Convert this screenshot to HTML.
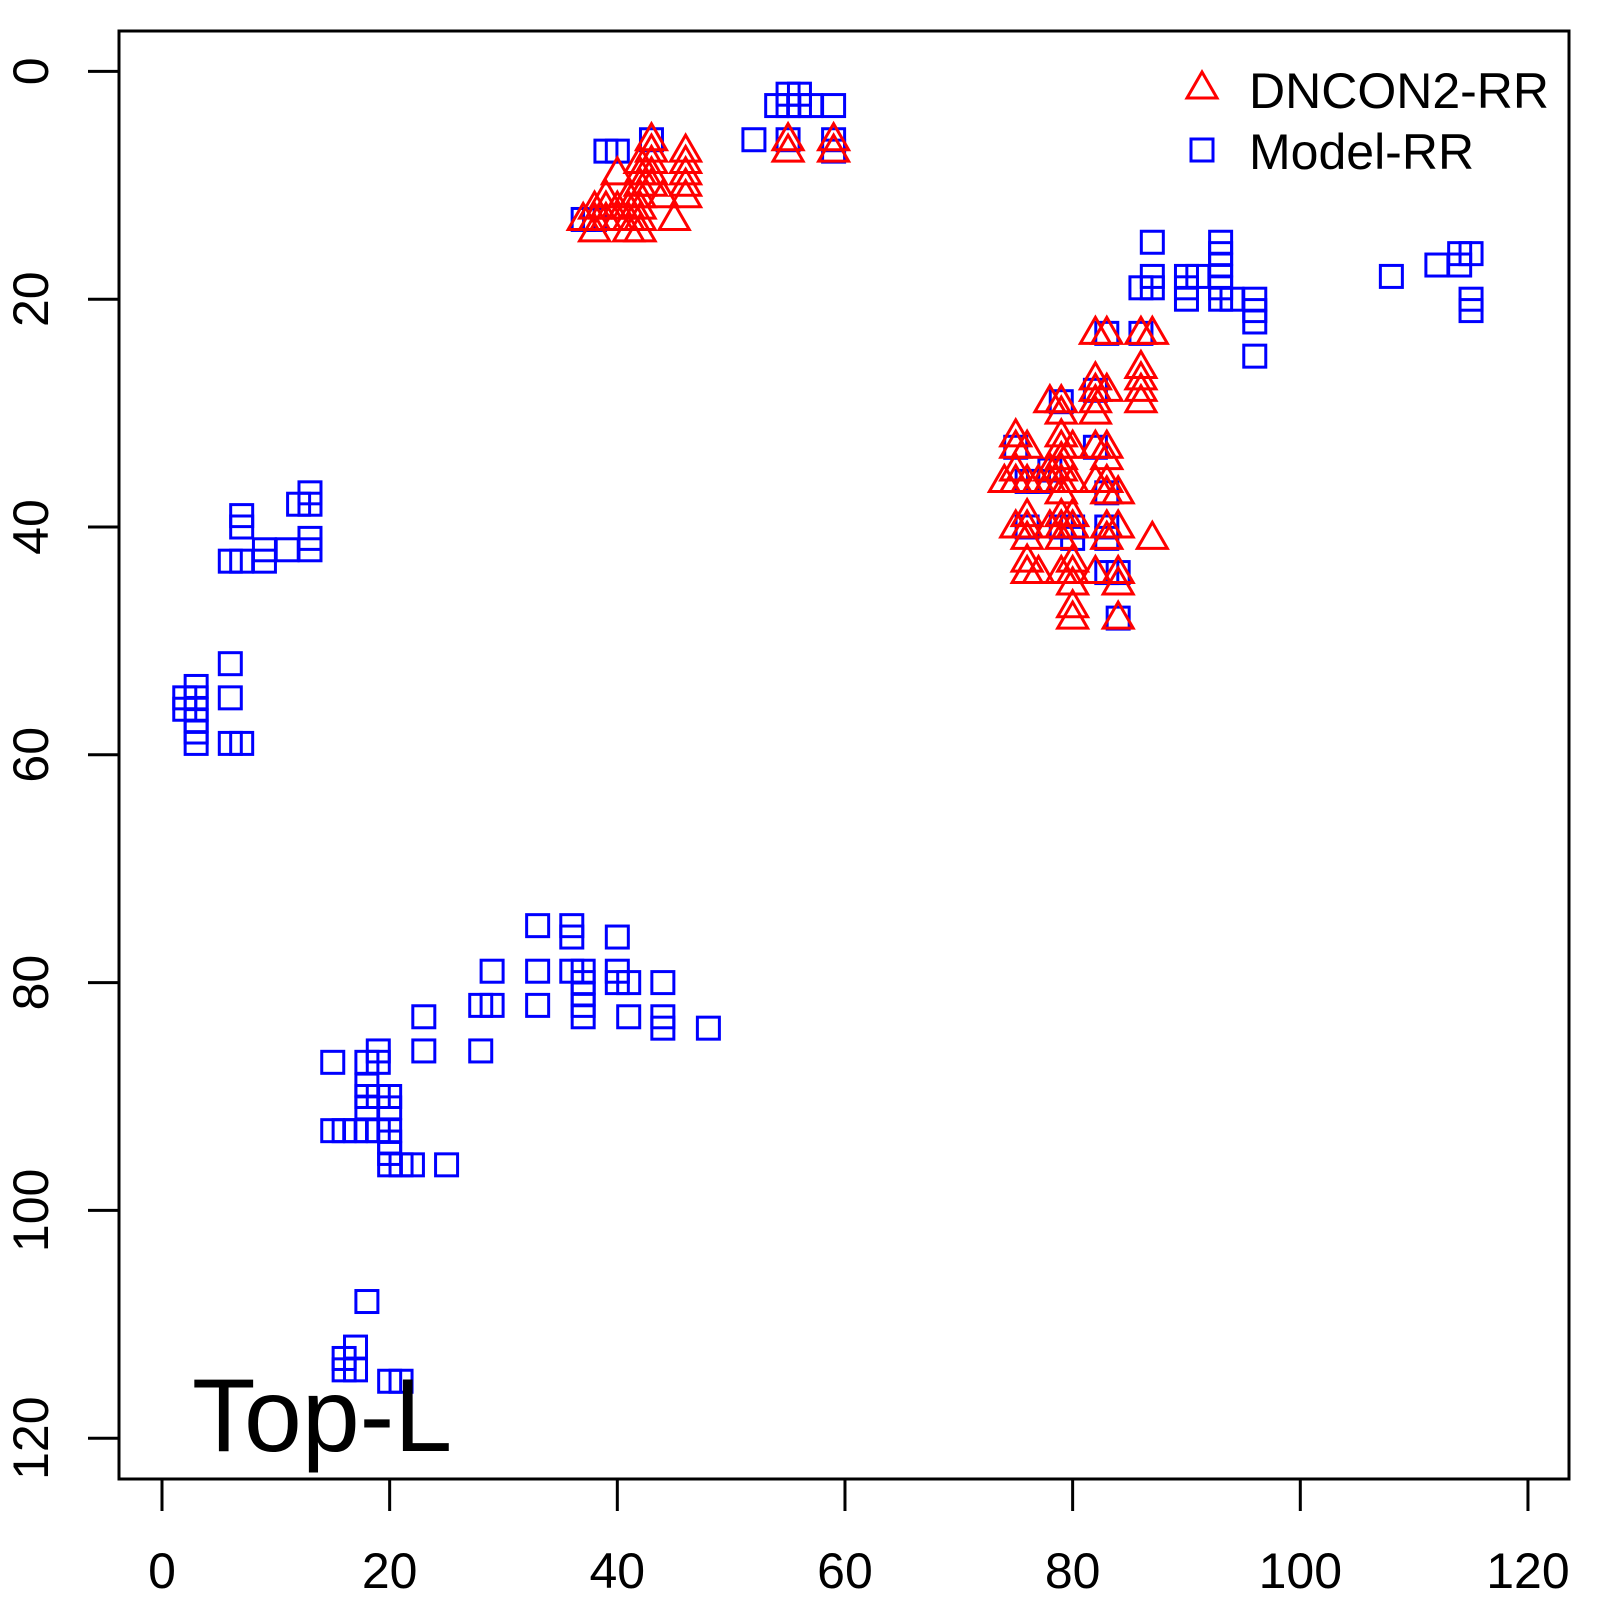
<!DOCTYPE html>
<html><head><meta charset="utf-8"><style>
html,body{margin:0;padding:0;background:#fff;}
svg{display:block;font-family:"Liberation Sans",sans-serif;}
</style></head><body>
<svg id="chart" width="1600" height="1600" viewBox="0 0 1600 1600">
<rect x="119" y="31" width="1450" height="1448" fill="none" stroke="#000" stroke-width="3"/>
<g id="axes"></g>
<g id="marks"></g>
<g>
<polygon points="1202,72 1217,98 1187,98" fill="none" stroke="#f00" stroke-width="3"/>
<text x="1249" y="108" font-size="50">DNCON2-RR</text>
<rect x="1191" y="139" width="22" height="22" fill="none" stroke="#00f" stroke-width="3"/>
<text x="1249" y="169" font-size="50">Model-RR</text>
</g>
<text x="192" y="1451" font-size="104">Top-L</text>
</svg>
<script>
const xTicks=[0,20,40,60,80,100,120];
const yTicks=[0,20,40,60,80,100,120];
const modelX=[54,55,56,57,59,55,56,52,55,59,59,39,40,43,37,38,
87,86,87,87,90,90,90,91,93,93,93,93,93,93,94,96,96,96,96,108,112,114,114,115,115,115,83,86,
79,82,82,83,75,76,77,78,79,80,80,83,83,83,84,84,76,
7,7,6,7,9,9,11,12,13,13,13,13,6,6,2,2,3,3,3,3,3,3,6,7,
33,36,36,40,33,36,37,37,37,37,37,40,40,41,44,29,28,29,33,23,41,44,44,48,23,28,15,18,19,19,18,18,19,20,18,20,15,16,17,18,19,20,20,20,20,21,22,25,18,17,16,16,17,20,21];
const modelY=[3,3,3,3,3,2,2,6,6,6,7,7,7,6,13,13,
15,19,18,19,18,19,20,18,15,16,17,18,19,20,20,20,21,22,25,18,17,17,16,16,20,21,23,23,
29,28,33,37,33,36,36,35,40,40,41,40,41,44,44,48,40,
39,40,43,43,43,42,42,38,37,38,41,42,52,55,55,56,54,55,56,57,58,59,59,59,
75,75,76,76,79,79,79,80,81,82,83,79,80,80,80,79,82,82,82,83,83,83,84,84,86,86,87,87,86,87,89,90,90,90,91,91,93,93,93,93,93,93,94,95,96,96,96,96,108,112,113,114,114,115,115];
const dnconX=[37,38,38,38,39,39,39,40,40,40,41,41,41,41,42,42,42,42,42,42,42,43,43,43,43,43,44,45,46,46,46,46,46,55,55,59,59,
82,83,86,87,82,82,83,86,86,86,86,78,79,79,82,82,82,83,83,75,75,76,79,79,79,80,74,75,75,76,77,78,78,79,79,79,80,82,83,83,84,75,76,76,76,78,79,79,79,80,80,83,84,83,87,76,76,77,79,80,80,80,82,84,84,80,80,84];
const dnconY=[13,12,13,14,11,12,13,9,12,13,11,12,13,14,8,9,10,11,12,13,14,6,7,8,9,10,11,13,7,8,9,10,11,6,7,6,7,
23,23,23,23,27,28,28,26,27,28,29,29,29,30,29,30,33,33,34,32,33,33,32,33,34,33,36,35,36,36,36,35,36,35,36,37,36,36,36,37,37,40,39,40,41,40,39,40,41,39,40,40,40,41,41,43,44,44,44,43,44,45,44,44,45,47,48,48];
const NS="http://www.w3.org/2000/svg";
function X(v){return 162+v*11.383;}
function Y(v){return 71.4+v*11.39;}
const axes=document.getElementById('axes');
const marks=document.getElementById('marks');
function mk(tag,attrs,parent){const e=document.createElementNS(NS,tag);for(const k in attrs)e.setAttribute(k,attrs[k]);parent.appendChild(e);return e;}
xTicks.forEach(t=>{
  const l=mk('line',{x1:X(t),x2:X(t),y1:1479,y2:1511,stroke:'#000','stroke-width':3},axes);
  
  
  const tx=mk('text',{x:X(t),y:1588,'font-size':50,'text-anchor':'middle'},axes);
  tx.textContent=t;
  
  
});
yTicks.forEach(t=>{
  const l=mk('line',{x1:88,x2:119,y1:Y(t),y2:Y(t),stroke:'#000','stroke-width':3},axes);
  
  
  const tx=mk('text',{x:0,y:0,'font-size':50,'text-anchor':'middle',transform:`translate(48,${Y(t)}) rotate(-90)`},axes);
  tx.textContent=t;
  
  
});
modelX.forEach((v,i)=>{
  const r=mk('rect',{x:X(v)-11,y:Y(modelY[i])-11,width:22,height:22,fill:'none',stroke:'#00f','stroke-width':3},marks);
  
  
});
dnconX.forEach((v,i)=>{
  const cx=X(v),cy=Y(dnconY[i]);
  const p=mk('polygon',{points:`${cx},${cy-16} ${cx+15},${cy+10} ${cx-15},${cy+10}`,fill:'none',stroke:'#f00','stroke-width':3},marks);
  
  
});
</script>
</body></html>
